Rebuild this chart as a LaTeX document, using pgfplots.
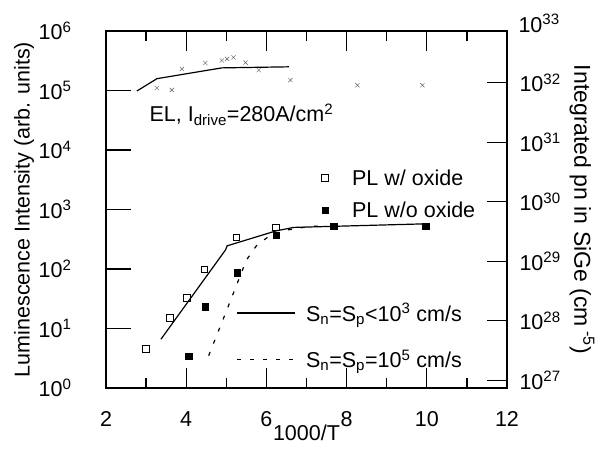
\documentclass[border=0pt]{standalone}
\usepackage{fontspec}
\setmainfont{Liberation Sans}
\usepackage{graphicx}
\usepackage{pgfplots}
\pgfplotsset{compat=1.18}
\begin{document}
\begin{tikzpicture}[font=\fontsize{21.5}{24}\selectfont]
% main axis: box, x ticks, PL data, EL data
\begin{axis}[
  scale only axis, width=401pt, height=357pt, at={(0pt,0pt)}, anchor=south west,
  xmin=2, xmax=12, ymode=log, ymin=1, ymax=1e6,
  axis line style={line width=1.6pt},
  tick align=inside, major tick length=20pt, minor tick length=10pt,
  tick style={line width=1.3pt, black},
  xtick={2,4,6,8,10,12}, xticklabels={2,4,6,8,10,12},
  minor xtick={3,5,7,9,11},
  xtick pos=both, ytick=\empty, yminorticks=false,
  xticklabel style={yshift=-20pt},
  legend style={draw=none, fill=none, at={(rel axis cs:0.526,0.624)}, anchor=north west, row sep=11pt},
  legend cell align=left,
  legend image code/.code={\path[draw=none, fill=none] (0pt,0pt) -- (30pt,0pt); \draw[#1] plot coordinates {(5pt,0pt)};},
  clip=false,
]
% EL crosses
\addplot[only marks, mark=x, mark size=3pt, gray!70!black, forget plot] coordinates {
 (3.27,1.1e5) (3.64,1.02e5) (3.89,2.3e5) (4.48,2.9e5) (4.89,3.2e5) (5.02,3.4e5)
 (5.18,3.6e5) (5.48,2.95e5) (5.81,2.2e5) (6.6,1.5e5) (8.27,1.23e5) (9.89,1.23e5)};
% EL line
\addplot[black, line width=1.2pt, forget plot] coordinates {
 (2.77,9.8e4) (3.27,1.58e5) (4.89,2.4e5) (6.56,2.5e5)};
% PL w/ oxide
\addplot[only marks, mark=square, mark size=3.3pt, black, mark options={fill=white, line width=0.8pt}] coordinates {
 (3.0,4.5) (3.6,14.9) (4.02,33) (4.45,99) (5.25,340) (6.24,500)};
\addlegendentry{PL w/ oxide}
% PL w/o oxide
\addplot[only marks, mark=square*, mark size=3.3pt, black] coordinates {
 (4.06,3.4) (4.475,23) (5.27,87) (6.24,372) (7.68,527) (9.98,527)};
\addlegendentry{PL w/o oxide}
\node[anchor=west] at (axis cs:3.0,3.9e4) {EL, I\textsubscript{drive}=280A/cm\textsuperscript{2}};
\node at ([yshift=-45pt]rel axis cs:0.5,0) {1000/T};
\node[rotate=90] at ([xshift=-82pt]rel axis cs:0,0.5) {Luminescence Intensity (arb. units)};
\end{axis}
% left y ticks
\begin{axis}[
  scale only axis, width=401pt, height=357pt, at={(0pt,0pt)}, anchor=south west,
  xmin=2, xmax=12, ymode=log, ymin=1, ymax=1e6,
  axis line style={line width=1.6pt},
  tick align=inside, major tick length=25pt,
  tick style={line width=1.3pt, black},
  axis x line=none, axis y line*=left,
  ytick={1,10,100,1000,10000,100000,1000000},
  yticklabels={10\textsuperscript{0},10\textsuperscript{1},10\textsuperscript{2},10\textsuperscript{3},10\textsuperscript{4},10\textsuperscript{5},10\textsuperscript{6}},
  yminorticks=false,
  yticklabel style={xshift=-31pt},
]
\end{axis}
% simulation lines
\begin{axis}[
  scale only axis, width=401pt, height=357pt, at={(0pt,0pt)}, anchor=south west,
  xmin=2, xmax=12, ymode=log, ymin=1, ymax=1e6,
  hide axis,
  legend style={draw=none, fill=none, at={(rel axis cs:0.319,0.249)}, anchor=north west, row sep=23pt},
  legend cell align=left,
  legend image code/.code={\draw[#1, overlay] (0pt,0pt) -- (58pt,0pt); \path[draw=none, fill=none] (0pt,-1pt) rectangle (67pt,1pt);},
]
\addplot[black, line width=1.2pt] coordinates {
 (3.37,6.6) (4.98,209) (5.02,245) (6.24,437) (6.68,500) (10.0,575)};
\addlegendentry{S\textsubscript{n}=S\textsubscript{p}<10\textsuperscript{3} cm/s}
\addplot[black, line width=1.2pt, dash pattern=on 4pt off 9pt] coordinates {
 (4.56,3.5) (5.0,19.5) (5.5,141) (5.75,245) (6.05,350) (6.5,450) (7.0,510) (7.5,540)};
\addlegendentry{S\textsubscript{n}=S\textsubscript{p}=10\textsuperscript{5} cm/s}
\end{axis}
% right axis
\begin{axis}[
  scale only axis, width=401pt, height=357pt, at={(0pt,0pt)}, anchor=south west,
  xmin=2, xmax=12, ymode=log, ymin=7.41e26, ymax=7.41e32,
  axis line style={line width=1.6pt},
  tick align=inside, major tick length=20pt,
  tick style={line width=1.3pt, black},
  axis x line=none, axis y line*=right,
  ytick={1e27,1e28,1e29,1e30,1e31,1e32},
  yticklabels={10\textsuperscript{27},10\textsuperscript{28},10\textsuperscript{29},10\textsuperscript{30},10\textsuperscript{31},10\textsuperscript{32}},
  yminorticks=false,
  yticklabel style={xshift=9pt},
  clip=false,
]
\node[anchor=west, xshift=8pt] at (axis cs:12,1e33) {10\textsuperscript{33}};
\node[rotate=-90, font=\fontsize{23}{26}\selectfont] at ([xshift=75pt]rel axis cs:1,0.5) {Integrated pn in SiGe (cm\textsuperscript{ -5})};
\end{axis}
\pgfresetboundingbox
\path[use as bounding box] (-106pt,-67pt) rectangle (505pt,388pt);
\end{tikzpicture}
\end{document}
